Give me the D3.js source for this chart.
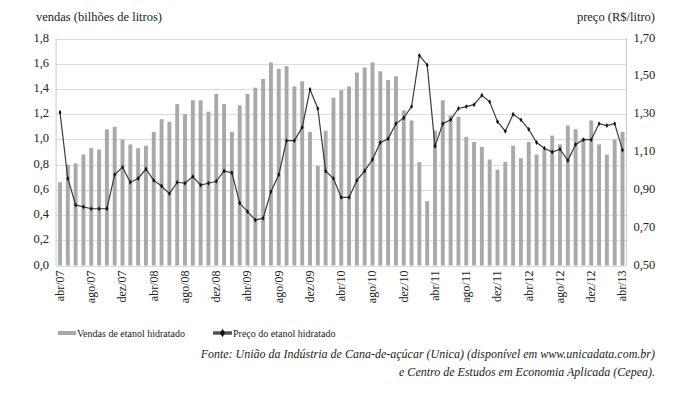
<!DOCTYPE html>
<html>
<head>
<meta charset="utf-8">
<script src="https://cdn.jsdelivr.net/npm/d3@7"></script>
<style>
  body { margin: 0; background: #fff; }
</style>
</head>
<body>
<svg id="chart" width="687" height="395"></svg>
<script>

// meses abr/07 .. abr/13
var month_names = ["jan","fev","mar","abr","mai","jun","jul","ago","set","out","nov","dez"];

// vendas de etanol hidratado (bilhões de litros)
var sales_2007 = [0.66, 0.80, 0.81, 0.88, 0.93, 0.92, 1.08, 1.10, 1.00];
var sales_2008 = [0.96, 0.93, 0.95, 1.06, 1.16, 1.14, 1.28, 1.20, 1.31, 1.31, 1.22, 1.36];
var sales_2009 = [1.28, 1.06, 1.27, 1.36, 1.41, 1.48, 1.61, 1.56, 1.58, 1.42, 1.46, 1.06];
var sales_2010 = [0.79, 1.07, 1.33, 1.39, 1.42, 1.53, 1.57, 1.61, 1.54, 1.47, 1.50, 1.23];
var sales_2011 = [1.15, 0.82, 0.51, 1.07, 1.31, 1.19, 1.18, 1.02, 0.98, 0.94, 0.84, 0.76];
var sales_2012 = [0.82, 0.95, 0.85, 0.98, 0.88, 0.92, 1.03, 0.96, 1.11, 1.08, 1.01, 1.15];
var sales_2013 = [0.96, 0.88, 1.00, 1.06];

// preço do etanol hidratado (R$/litro)
var price_2007 = [1.31, 0.96, 0.82, 0.81, 0.80, 0.80, 0.80, 0.98, 1.02];
var price_2008 = [0.94, 0.96, 1.01, 0.95, 0.92, 0.88, 0.94, 0.935, 0.97, 0.925, 0.935, 0.945];
var price_2009 = [1.00, 0.99, 0.83, 0.785, 0.74, 0.75, 0.89, 0.98, 1.16, 1.16, 1.23, 1.43];
var price_2010 = [1.33, 1.00, 0.96, 0.86, 0.86, 0.95, 1.00, 1.06, 1.15, 1.17, 1.25, 1.28];
var price_2011 = [1.34, 1.61, 1.56, 1.13, 1.25, 1.27, 1.33, 1.34, 1.35, 1.40, 1.365, 1.26];
var price_2012 = [1.21, 1.30, 1.27, 1.22, 1.15, 1.12, 1.10, 1.115, 1.055, 1.14, 1.165, 1.165];
var price_2013 = [1.25, 1.24, 1.25, 1.11];

var sales_ticks = [0, 0.2, 0.4, 0.6, 0.8, 1.0, 1.2, 1.4, 1.6, 1.8];
var price_ticks = [0.50, 0.70, 0.90, 1.10, 1.30, 1.50, 1.70];

var sales = [].concat(sales_2007, sales_2008, sales_2009, sales_2010, sales_2011, sales_2012, sales_2013);
var prices = [].concat(price_2007, price_2008, price_2009, price_2010, price_2011, price_2012, price_2013);

var months = d3.timeMonth.range(new Date(2007, 3, 1), new Date(2013, 4, 1))
    .map(function(d) { return month_names[d.getMonth()] + "/" + String(d.getFullYear()).slice(2); });

var data = months.map(function(m, i) {
    return { month: m, sales: sales[i], price: prices[i] };
});

var serif = '"Liberation Serif", "DejaVu Serif", "Times New Roman", serif';

var chart = {
    left: 56.1,
    right: 626.4,
    top: 38.5,
    bottom: 265.5,
};

var svg = d3.select("#chart");

var x = d3.scaleBand()
    .domain(months)
    .range([chart.left, chart.right])
    .paddingInner(0.5)
    .paddingOuter(0.25);

var y_sales = d3.scaleLinear().domain([0, 1.8]).range([chart.bottom, chart.top]);
var y_price = d3.scaleLinear().domain([0.5, 1.7]).range([chart.bottom, chart.top]);

var comma = function(n) { return function(d) { return d3.format("." + n + "f")(d).replace(".", ","); }; };

// grid
svg.append("g")
    .attr("class", "grid")
    .selectAll("line")
    .data(sales_ticks)
    .enter().append("line")
        .attr("x1", chart.left)
        .attr("x2", chart.right)
        .attr("y1", function(d) { return Math.round(y_sales(d)) + 0.5; })
        .attr("y2", function(d) { return Math.round(y_sales(d)) + 0.5; })
        .attr("stroke", "#dcdcdc")
        .attr("stroke-width", 1.2);

// bars
svg.append("g")
    .selectAll("rect")
    .data(data)
    .enter().append("rect")
        .attr("x", function(d) { return x(d.month); })
        .attr("width", x.bandwidth())
        .attr("y", function(d) { return y_sales(d.sales); })
        .attr("height", function(d) { return chart.bottom - y_sales(d.sales); })
        .attr("fill", "#a9a9a9");

// axis lines
svg.append("line")
    .attr("x1", chart.left).attr("x2", chart.left)
    .attr("y1", chart.top).attr("y2", chart.bottom)
    .attr("stroke", "#c8c8c8");
svg.append("line")
    .attr("x1", chart.right).attr("x2", chart.right)
    .attr("y1", chart.top).attr("y2", chart.bottom)
    .attr("stroke", "#c8c8c8");

// price line
var cx = function(d) { return x(d.month) + x.bandwidth() / 2; };

svg.append("path")
    .datum(data)
    .attr("fill", "none")
    .attr("stroke", "#3a3a3a")
    .attr("stroke-width", 1.2)
    .attr("d", d3.line().x(cx).y(function(d) { return y_price(d.price); }));

svg.append("g")
    .selectAll("path")
    .data(data)
    .enter().append("path")
        .attr("d", d3.symbol().type(d3.symbolDiamond).size(7))
        .attr("transform", function(d) { return "translate(" + cx(d) + "," + y_price(d.price) + ")"; })
        .attr("fill", "#111");

// left axis
var left_axis = svg.append("g")
    .attr("transform", "translate(" + (chart.left - 4) + ",0)")
    .call(d3.axisLeft(y_sales).tickValues(sales_ticks).tickFormat(comma(1)).tickSize(0));
left_axis.select(".domain").remove();
left_axis.selectAll("text").attr("font-size", 12.5).attr("dy", "0.2em");

// right axis
var right_axis = svg.append("g")
    .attr("transform", "translate(" + (chart.right + 4) + ",0)")
    .call(d3.axisRight(y_price).tickValues(price_ticks).tickFormat(comma(2)).tickSize(0));
right_axis.select(".domain").remove();
right_axis.selectAll("text").attr("font-size", 12.5).attr("dy", "0.2em");

// month labels
var bottom_axis = svg.append("g")
    .attr("transform", "translate(0," + chart.bottom + ")")
    .call(d3.axisBottom(x).tickValues(months.filter(function(m, i) { return i % 4 == 0; })).tickSize(0));
bottom_axis.select(".domain").remove();
bottom_axis.selectAll("text")
    .attr("font-size", 12)
    .attr("transform", "rotate(-90)")
    .attr("text-anchor", "end")
    .attr("x", -5)
    .attr("y", 0)
    .attr("dy", "0.33em");

[left_axis, right_axis, bottom_axis].forEach(function(g) { g.attr("font-family", null); });

// axis titles
svg.append("text")
    .attr("x", 36).attr("y", 21)
    .attr("font-size", 12.5)
    .text("vendas (bilhões de litros)");
svg.append("text")
    .attr("x", 655).attr("y", 21)
    .attr("text-anchor", "end")
    .attr("font-size", 12.5)
    .text("preço (R$/litro)");

// legend
var legend = svg.append("g").attr("font-size", 10);
legend.append("rect")
    .attr("x", 58).attr("y", 331).attr("width", 18).attr("height", 4)
    .attr("fill", "#a9a9a9");
legend.append("text").attr("x", 77).attr("y", 336.5).text("Vendas de etanol hidratado");
legend.append("line")
    .attr("x1", 213).attr("x2", 232).attr("y1", 333).attr("y2", 333)
    .attr("stroke", "#555").attr("stroke-width", 3.5);
legend.append("path")
    .attr("d", d3.symbol().type(d3.symbolDiamond).size(22))
    .attr("transform", "translate(222.5,333)")
    .attr("fill", "#111");
legend.append("text").attr("x", 233).attr("y", 336.5).text("Preço do etanol hidratado");

// source
var source = svg.append("g")
    .attr("font-size", 12)
    .attr("font-style", "italic")
    .attr("text-anchor", "end");
source.append("text").attr("x", 655).attr("y", 358)
    .text("Fonte: União da Indústria de Cana-de-açúcar (Unica) (disponível em www.unicadata.com.br)");
source.append("text").attr("x", 655).attr("y", 376)
    .text("e Centro de Estudos em Economia Aplicada (Cepea).");

svg.selectAll("text")
    .style("font-family", serif)
    .style("fill", "#222");

</script>
</body>
</html>
